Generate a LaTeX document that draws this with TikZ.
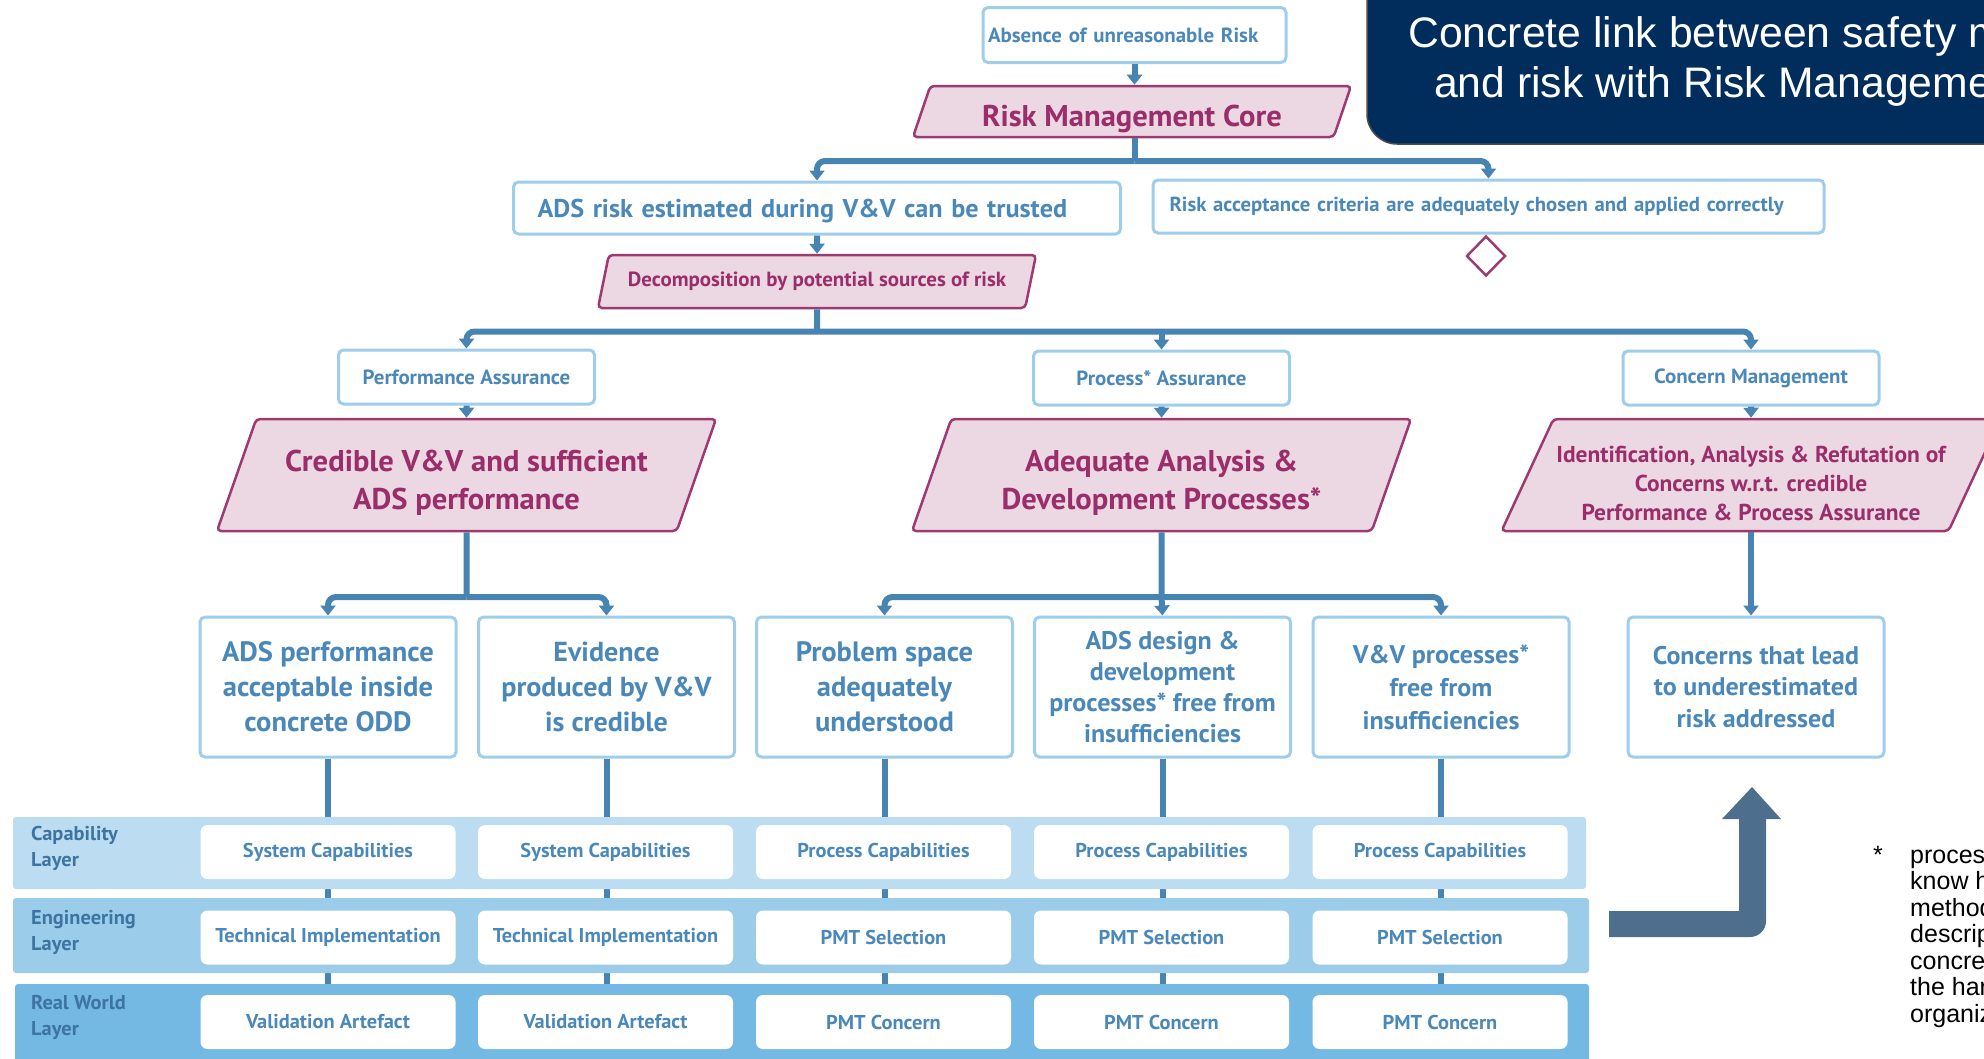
\documentclass[tikz,border=0pt]{standalone}
\usepackage{fontspec}
\newfontfamily\boxfont{PT Sans Bold}[FakeStretch=1.02]
\newfontfamily\slidefont{Liberation Sans}
\usetikzlibrary{shapes.geometric,arrows.meta}
\definecolor{boxtext}{HTML}{4A88BA}
\definecolor{boxline}{HTML}{9FCDEC}
\definecolor{wirecol}{HTML}{4784B2}
\definecolor{stratfill}{HTML}{EBD8E3}
\definecolor{stratline}{HTML}{9E3A72}
\definecolor{strattext}{HTML}{9A2D6A}
\definecolor{capband}{HTML}{BBDCF1}
\definecolor{engband}{HTML}{9BCDEB}
\definecolor{realband}{HTML}{74B8E4}
\definecolor{layertext}{HTML}{3E74A2}
\definecolor{navy}{HTML}{012D5C}
\definecolor{bigarrow}{HTML}{4E6E8E}
\newcommand{\setfs}[2]{\fontsize{#1}{#2}\selectfont}
\tikzset{goal/.style={draw=boxline,line width=3pt,rounded corners=5pt,fill=white,text=boxtext,align=center,inner sep=0pt}}
\tikzset{strat/.style={shape=trapezium,trapezium left angle=60,trapezium right angle=120,trapezium stretches body,
  draw=stratline,line width=2.5pt,rounded corners=4pt,fill=stratfill,text=strattext,align=center,inner sep=0pt}}
\tikzset{wire/.style={draw=wirecol,line width=6pt,rounded corners=8pt}}
\tikzset{arrowtip/.style={-{Triangle[width=15pt,length=10pt]}}}
\tikzset{cell/.style={fill=white,rounded corners=7pt,minimum width=255pt,minimum height=54pt,inner sep=0pt,text=boxtext,font=\boxfont\setfs{20}{24}}}
\tikzset{layerlabel/.style={anchor=base west,align=left,text=layertext,inner sep=0pt,font=\boxfont\setfs{20}{26}}}
\pgfdeclarelayer{background}
\pgfsetlayers{background,main}

\begin{document}
\begin{tikzpicture}[x=1pt,y=-1pt]
	\useasboundingbox (0,0) rectangle (1984,1058);

	% title box, cut by the page edge
	\fill[navy,draw=black!70,line width=1.5pt] (2000,-10) -- (1367,-10) -- (1367,114) arc[start angle=180,end angle=270,radius=30pt] -- (2000,144) -- cycle;
	\node[anchor=base west,text=white,inner sep=0pt,font=\slidefont\setfs{42.7}{50}] (title1) at (1408,47) {Concrete link between safety m};
	\node[anchor=base west,text=white,inner sep=0pt,font=\slidefont\setfs{42.7}{50}] (title2) at (1434,97) {and risk with Risk Manageme};

	% top of the tree
	\node[goal,align=left,text width=293pt,inner xsep=5pt,minimum height=55pt,font=\boxfont\setfs{20.5}{25}] (absence) at (1134.5,35) {Absence of unreasonable Risk};
	\node[strat,minimum width=438pt,minimum height=51pt,text height=30pt,text depth=0pt,font=\boxfont\setfs{30}{36}] (rmc) at (1132,111.5) {Risk Management Core};
	\node[goal,align=left,text width=559pt,inner xsep=24pt,minimum height=52pt,text depth=0pt,font=\boxfont\setfs{25.7}{31}] (adsrisk) at (817,208) {ADS risk estimated during V\&V can be trusted};
	\node[goal,align=left,text width=638pt,inner xsep=16.5pt,minimum height=53pt,font=\boxfont\setfs{20.3}{25}] (accept) at (1488.5,206.5) {Risk acceptance criteria are adequately chosen and applied correctly};
	\node[diamond,draw=stratline,line width=2.5pt,fill=white,minimum width=39pt,minimum height=40pt,inner sep=0pt] (open) at (1486,256) {};
	\node[strat,minimum width=438pt,minimum height=53pt,font=\boxfont\setfs{20.5}{25}] (decomp) at (817,281.5) {Decomposition by potential sources of risk};

	% assurance branches
	\node[goal,minimum width=256pt,minimum height=54pt,font=\boxfont\setfs{20.5}{25}] (perfA) at (466.5,377) {Performance Assurance};
	\node[goal,minimum width=256pt,minimum height=54pt,font=\boxfont\setfs{20.5}{25}] (procA) at (1161.5,378) {Process* Assurance};
	\node[goal,minimum width=256pt,minimum height=54pt,font=\boxfont\setfs{20.5}{25}] (concA) at (1751,378) {Concern Management};
	\node[strat,minimum width=499pt,minimum height=112pt,text height=68pt,text depth=0pt,font=\boxfont\setfs{30}{38}] (cred) at (466.5,475) {Credible V\&V and sufficient\\ADS performance};
	\node[strat,minimum width=499pt,minimum height=112pt,text height=68pt,text depth=0pt,font=\boxfont\setfs{30}{38}] (adeq) at (1161.5,475) {Adequate Analysis \&\\Development Processes*};
	\node[strat,minimum width=499pt,minimum height=112pt,text height=90pt,text depth=0pt,font=\boxfont\setfs{23}{29}] (ident) at (1751,475) {Identification, Analysis \& Refutation of\\Concerns w.r.t. credible\\Performance \& Process Assurance};

	% claims
	\node[goal,minimum width=256pt,minimum height=140pt,font=\boxfont\setfs{28}{35}] (c1) at (328,687) {ADS performance\\acceptable inside\\concrete ODD};
	\node[goal,minimum width=256pt,minimum height=140pt,font=\boxfont\setfs{27.5}{35}] (c2) at (606.5,687) {Evidence\\produced by V\&V\\is credible};
	\node[goal,minimum width=256pt,minimum height=140pt,font=\boxfont\setfs{28}{35}] (c3) at (884.5,687) {Problem space\\adequately\\understood};
	\node[goal,minimum width=256pt,minimum height=140pt,font=\boxfont\setfs{25.5}{31}] (c4) at (1162.5,687) {ADS design \&\\development\\processes* free from\\insufficiencies};
	\node[goal,minimum width=256pt,minimum height=140pt,font=\boxfont\setfs{25.5}{33}] (c5) at (1441,687) {V\&V processes*\\free from\\insufficiencies};
	\node[goal,minimum width=256pt,minimum height=140pt,font=\boxfont\setfs{25.5}{31.5}] (c6) at (1756,687) {Concerns that lead\\to underestimated\\risk addressed};

	% connectors of the tree
	\coordinate (fork1) at (1134.5,161);
	\coordinate (fork2) at (817,331.5);
	\coordinate (fork3) at (466.5,597);
	\coordinate (fork4) at (1161.5,597);
	\draw[wire,arrowtip] (absence.south) -- (absence.south |- rmc.north);
	\draw[wire] (absence.south |- rmc.south) -- (fork1);
	\draw[wire,arrowtip] (fork1) -| (adsrisk.north);
	\draw[wire,arrowtip] (fork1) -| (accept.north);
	\draw[wire,arrowtip] (adsrisk.south) -- (decomp.north);
	\draw[wire] (decomp.south) -- (fork2);
	\draw[wire,arrowtip] (fork2) -| (perfA.north);
	\draw[wire,arrowtip] (fork2) -| (concA.north);
	\draw[wire,arrowtip] (fork2 -| procA.north) -- (procA.north);
	\draw[wire,arrowtip] (perfA.south) -- (cred.north);
	\draw[wire,arrowtip] (procA.south) -- (adeq.north);
	\draw[wire,arrowtip] (concA.south) -- (ident.north);
	\draw[wire] (cred.south) -- (fork3);
	\draw[wire,arrowtip] (fork3) -| (c1.north);
	\draw[wire,arrowtip] (fork3) -| (c2.north);
	\draw[wire] (adeq.south) -- (fork4);
	\draw[wire,arrowtip] (fork4) -| (c3.north);
	\draw[wire,arrowtip] (fork4) -| (c5.north);
	\draw[wire,arrowtip] (fork4) -- (c4.north);
	\draw[wire,arrowtip] (ident.south) -- (ident.south |- c6.north);

	% layers
	\fill[capband,rounded corners=3pt] (13,817) rectangle (1586,889);
	\fill[engband,rounded corners=3pt] (13,898) rectangle (1589,973);
	\fill[realband,rounded corners=3pt] (15,984) rectangle (1589,1070);
	\node[layerlabel] (lcap) at (31,866) {Capability\\Layer};
	\node[layerlabel] (leng) at (31,950) {Engineering\\Layer};
	\node[layerlabel] (lreal) at (31,1035) {Real World\\Layer};
	\foreach \i/\x/\capt/\engt/\realt in {1/328/System Capabilities/Technical Implementation/Validation Artefact,
		2/605.5/System Capabilities/Technical Implementation/Validation Artefact,
		3/883.5/Process Capabilities/PMT Selection/PMT Concern,
		4/1161.5/Process Capabilities/PMT Selection/PMT Concern,
		5/1440/Process Capabilities/PMT Selection/PMT Concern}{
		\node[cell] (cap\i) at (\x,852) {\capt};
		\node[cell] (eng\i) at (\x,937.5) {\engt};
		\node[cell] (real\i) at (\x,1022) {\realt};
	}
	\begin{pgfonlayer}{background}
		\foreach \i in {1,...,5}
			\draw[wire,rounded corners=0pt] (c\i.south) -- (c\i.south |- real\i.north);
	\end{pgfonlayer}

	% bent arrow and footnote
	\fill[bigarrow] (1609,911) -- (1739,911) -- (1739,819) -- (1722,819) -- (1752,787) -- (1781,819) -- (1766,819) -- (1766,921) arc[start angle=0,end angle=-90,radius=16pt] -- (1609,937) -- cycle;
	\node[anchor=base west,inner sep=0pt,font=\slidefont\setfs{25}{26.5}] (star) at (1873,863) {*};
	\node[anchor=base west,align=left,inner sep=0pt,font=\slidefont\setfs{25}{26.5}] (note) at (1910,1022) {process\\know h\\method\\descrip\\concret\\the har\\organiz};
\end{tikzpicture}
\end{document}
